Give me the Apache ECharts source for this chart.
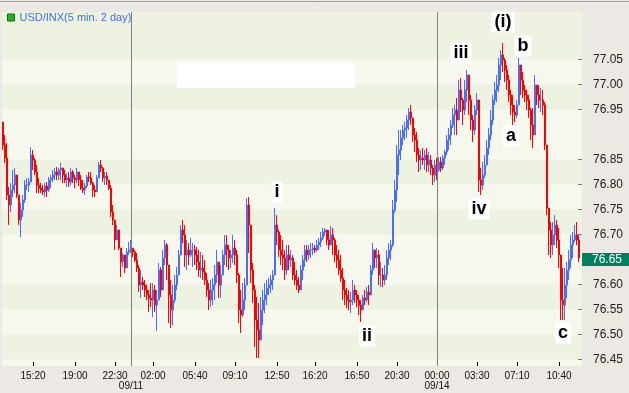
<!DOCTYPE html>
<html><head><meta charset="utf-8">
<script src="https://cdn.jsdelivr.net/npm/echarts@6/dist/echarts.min.js"></script>
<style>html,body{margin:0;padding:0;background:#ece9e4}#c{width:629px;height:393px}</style>
</head><body><div id="c"></div>
<script>
const seriesName = 'USD/INX(5 min. 2 day)';
const firstOpen = 76.925;
const highs = [
76.925,76.899,76.883,76.795,76.803,76.829,76.833,76.819,76.779,76.763,
76.779,76.809,76.813,76.813,76.875,76.869,76.853,76.839,76.813,76.803,
76.799,76.803,76.805,76.815,76.819,76.829,76.833,76.835,76.833,76.843,
76.833,76.829,76.823,76.825,76.833,76.829,76.819,76.833,76.825,76.819,
76.809,76.803,76.819,76.825,76.825,76.805,76.799,76.819,76.845,76.849,
76.835,76.825,76.825,76.805,76.799,76.759,76.729,76.719,76.703,76.669,
76.663,76.653,76.673,76.685,76.689,
76.673,76.669,76.663,76.639,76.629,76.615,76.609,76.599,76.589,76.603,
76.603,76.599,76.589,76.643,76.635,76.669,76.689,76.683,76.623,76.609,
76.599,76.619,76.635,76.669,76.719,76.729,76.719,76.689,76.683,76.693,
76.683,76.679,76.675,
76.669,76.665,76.659,76.649,76.623,76.603,76.609,76.613,76.639,76.669,
76.635,76.639,76.669,76.699,76.699,76.679,76.669,76.699,76.689,76.669,
76.623,76.589,76.603,76.613,76.773,76.775,76.695,76.643,76.599,76.575,
76.563,76.575,76.589,76.603,76.609,76.613,76.619,76.629,76.753,76.739,
76.709,76.699,76.689,76.669,76.679,76.679,76.669,76.659,76.645,76.629,
76.615,76.639,76.659,76.679,76.679,76.679,76.683,76.683,76.679,76.689,
76.693,76.705,76.713,76.713,76.709,76.709,76.717,76.713,76.693,76.679,
76.669,76.659,76.633,76.609,76.593,76.589,76.585,76.609,76.599,76.589,
76.579,76.569,76.579,76.589,76.595,76.599,76.639,76.683,76.669,76.673,
76.669,76.645,76.633,76.639,76.669,76.683,76.689,76.769,76.809,
76.879,76.909,76.909,76.919,76.925,76.939,76.953,76.959,76.933,76.913,
76.905,76.873,76.869,76.873,76.869,76.873,76.865,76.859,76.839,76.849,
76.853,76.855,76.855,76.859,76.869,76.899,76.913,76.929,76.953,76.959,
76.973,77.009,77.013,76.973,77.009,77.029,77.005,76.979,76.939,76.959,
76.983,76.945,76.833,76.845,76.859,76.889,76.913,76.949,76.979,77.005,
77.019,77.053,77.069,77.083,77.053,77.039,77.019,76.989,76.979,76.959,
76.969,77.053,77.039,77.025,76.999,76.989,76.979,76.953,76.953,77.019,
76.999,76.999,76.993,76.989,76.965,76.873,76.753,76.725,76.725,76.739,
76.729,76.713,76.645,76.633,76.633,76.645,76.669,76.699,76.705,76.719,
76.725,76.699];
const lows = [
76.869,76.843,76.769,76.719,76.745,76.775,76.783,76.773,76.719,76.695,
76.735,76.763,76.789,76.785,76.805,76.829,76.819,76.783,76.783,76.783,
76.779,76.775,76.775,76.785,76.793,76.805,76.809,76.809,76.809,76.809,
76.803,76.803,76.795,76.795,76.799,76.803,76.793,76.803,76.797,76.789,
76.783,76.779,76.793,76.805,76.799,76.775,76.775,76.785,76.819,76.825,
76.805,76.799,76.799,76.789,76.735,76.719,76.669,76.689,76.669,76.615,
76.635,76.623,76.645,76.659,76.663,
76.655,76.645,76.625,76.585,76.573,76.589,76.575,76.569,76.545,76.555,
76.535,76.545,76.507,76.589,76.575,76.609,76.639,76.609,76.523,76.513,
76.519,76.563,76.589,76.625,76.673,76.683,76.635,76.629,76.639,76.655,
76.635,76.639,76.629,
76.615,76.613,76.609,76.599,76.575,76.549,76.555,76.559,76.569,76.603,
76.573,76.573,76.629,76.639,76.635,76.629,76.633,76.643,76.639,76.603,
76.523,76.503,76.535,76.549,76.609,76.663,76.603,76.563,76.475,76.453,
76.453,76.503,76.519,76.543,76.559,76.579,76.583,76.589,76.645,76.679,
76.655,76.639,76.629,76.609,76.619,76.629,76.635,76.609,76.599,76.589,
76.583,76.589,76.609,76.635,76.645,76.649,76.653,76.659,76.663,76.665,
76.669,76.675,76.689,76.697,76.679,76.669,76.679,76.659,76.645,76.633,
76.619,76.605,76.569,76.559,76.553,76.549,76.543,76.559,76.563,76.555,
76.539,76.525,76.549,76.559,76.565,76.559,76.589,76.619,76.633,76.633,
76.599,76.595,76.595,76.599,76.609,76.639,76.649,76.675,76.743,
76.765,76.819,76.849,76.879,76.889,76.893,76.909,76.919,76.885,76.865,
76.845,76.825,76.829,76.839,76.829,76.825,76.825,76.819,76.799,76.805,
76.809,76.825,76.825,76.829,76.839,76.859,76.869,76.879,76.913,76.899,
76.899,76.945,76.945,76.919,76.939,76.965,76.939,76.909,76.885,76.899,
76.939,76.785,76.779,76.789,76.813,76.839,76.859,76.889,76.919,76.959,
76.965,76.985,77.009,77.025,77.005,76.989,76.965,76.939,76.919,76.925,
76.933,76.993,76.979,76.973,76.965,76.949,76.933,76.889,76.873,76.959,
76.959,76.953,76.945,76.939,76.869,76.739,76.659,76.653,76.659,76.679,
76.673,76.633,76.529,76.529,76.529,76.573,76.609,76.633,76.653,76.685,
76.679,76.645];
const closes = [
76.879,76.853,76.779,76.759,76.789,76.799,76.819,76.779,76.729,76.749,
76.769,76.799,76.799,76.805,76.859,76.849,76.825,76.799,76.793,76.789,
76.785,76.797,76.789,76.809,76.813,76.819,76.825,76.819,76.829,76.833,
76.819,76.809,76.813,76.805,76.825,76.813,76.809,76.825,76.809,76.793,
76.789,76.797,76.815,76.813,76.803,76.789,76.785,76.813,76.839,76.833,
76.813,76.817,76.809,76.793,76.745,76.729,76.689,76.709,76.673,76.645,
76.659,76.633,76.665,76.669,76.673,
76.665,76.649,76.633,76.599,76.605,76.599,76.589,76.579,76.573,76.569,
76.589,76.559,76.569,76.629,76.589,76.653,76.679,76.639,76.579,76.549,
76.569,76.599,76.619,76.659,76.709,76.699,76.659,76.669,76.659,76.669,
76.669,76.659,76.645,
76.629,76.633,76.625,76.609,76.589,76.569,76.589,76.599,76.619,76.645,
76.599,76.619,76.659,76.679,76.669,76.653,76.659,76.673,76.659,76.619,
76.549,76.539,76.569,76.599,76.759,76.719,76.629,76.589,76.529,76.509,
76.489,76.549,76.569,76.579,76.593,76.599,76.609,76.619,76.719,76.705,
76.669,76.659,76.653,76.629,76.659,76.649,76.653,76.619,76.609,76.599,
76.589,76.629,76.649,76.669,76.659,76.669,76.669,76.673,76.669,76.679,
76.685,76.693,76.705,76.709,76.689,76.679,76.699,76.689,76.659,76.649,
76.629,76.613,76.589,76.579,76.569,76.565,76.569,76.589,76.579,76.569,
76.559,76.549,76.573,76.569,76.585,76.579,76.629,76.669,76.653,76.659,
76.619,76.619,76.609,76.619,76.653,76.669,76.679,76.749,76.789,
76.859,76.869,76.893,76.909,76.913,76.929,76.945,76.933,76.899,76.889,
76.859,76.849,76.853,76.849,76.859,76.839,76.849,76.833,76.819,76.839,
76.829,76.845,76.833,76.853,76.865,76.889,76.899,76.919,76.939,76.949,
76.929,76.989,76.969,76.949,76.989,77.019,76.969,76.929,76.909,76.949,
76.969,76.809,76.799,76.819,76.839,76.873,76.899,76.929,76.969,76.989,
76.999,77.039,77.059,77.049,77.029,77.009,76.979,76.959,76.945,76.939,
76.959,77.039,77.009,76.989,76.979,76.969,76.949,76.919,76.899,76.999,
76.979,76.969,76.969,76.959,76.879,76.753,76.709,76.679,76.699,76.719,
76.689,76.659,76.569,76.559,76.599,76.629,76.649,76.679,76.689,76.699,
76.689,76.653];
const categoryCount = 290;
const timeTickIndex = [15,36,56,75,96,116,137,156,177,197,217,237,257,278];
const timeTickLabels = ['15:20','19:00','22:30','02:00','05:40','09:10','12:50','16:20','16:50','20:30','00:00','03:30','07:10','10:40'];
const dateTickIndex = [64,217];
const dateTickLabels = ['09/11','09/14'];
const priceTicks = [76.45,76.50,76.55,76.60,76.70,76.75,76.80,76.85,76.95,77.00,77.05];
const darkBands = [[76.45,76.50],[76.55,76.60],[76.70,76.75],[76.80,76.85],[76.95,77.00],[77.05,77.145]];
const lastPrice = 76.65;
const waveLabels = ['i','ii','iii','iv','(i)','a','b','c'];
const waveIndex = [137,182,229,238,250,254,260,280];
const wavePrice = [76.785,76.497,77.063,76.751,77.125,76.897,77.077,76.503];

const categories = [];
for (let i = 0; i < categoryCount; i++) categories.push(String(i));
const candles = closes.map((c, i) => [i === 0 ? firstOpen : closes[i - 1], c, lows[i], highs[i]]);

const chart = echarts.init(document.getElementById('c'), null, {renderer: 'canvas'});
const FONT = 'Liberation Sans, Arial, sans-serif';
chart.setOption({
  animation: false,
  backgroundColor: '#ece9e4',
  grid: {left: 2, right: 47, top: 12, bottom: 27, show: true, backgroundColor: '#f6f8ee', borderWidth: 0},
  legend: {
    left: 7, top: 12, padding: 0, icon: 'rect', itemWidth: 7, itemHeight: 7, selectedMode: false,
    data: [{name: seriesName, itemStyle: {color: '#22b322', borderColor: '#0a6a0a', borderWidth: 1}}],
    textStyle: {color: '#3b6fe8', fontSize: 11, fontFamily: FONT}
  },
  xAxis: [{
    type: 'category', data: categories, boundaryGap: true,
    axisLine: {show: false},
    axisTick: {show: true, inside: true, length: 4, alignWithLabel: true,
      interval: (i) => timeTickIndex.includes(i), lineStyle: {color: '#000'}},
    axisLabel: {interval: (i) => timeTickIndex.includes(i), margin: 5, color: '#111', fontSize: 10, fontFamily: FONT,
      formatter: (v, i) => timeTickLabels[timeTickIndex.indexOf(i)] || ''},
    splitLine: {show: false}
  }, {
    type: 'category', data: categories, boundaryGap: true, position: 'bottom',
    axisLine: {show: false}, axisTick: {show: false},
    axisLabel: {interval: (i) => dateTickIndex.includes(i), margin: 15, color: '#111', fontSize: 10, fontFamily: FONT,
      formatter: (v, i) => dateTickLabels[dateTickIndex.indexOf(i)] || ''},
    splitLine: {show: false}
  }],
  yAxis: {
    type: 'value', position: 'right', min: 76.437, max: 77.145, scale: true,
    axisLine: {show: false}, splitLine: {show: false},
    axisTick: {show: true, inside: true, length: 4, customValues: priceTicks, lineStyle: {color: '#000'}},
    axisLabel: {customValues: priceTicks, margin: 11, color: '#222', fontSize: 12, fontFamily: FONT,
      formatter: (v) => v.toFixed(2)}
  },
  series: [{
    type: 'line', data: [], z: 1, silent: true,
    markArea: {silent: true, itemStyle: {color: '#eef2e1'},
      data: darkBands.map(b => [{yAxis: b[0]}, {yAxis: b[1]}])},
    markLine: {silent: true, symbol: 'none', label: {show: false},
      lineStyle: {color: '#808080', type: 'solid', width: 1},
      data: dateTickIndex.map(i => ({xAxis: i}))}
  }, {
    name: seriesName, type: 'candlestick', z: 3, data: candles, barWidth: 2,
    itemStyle: {color: '#4a6cff', color0: '#ff0000', borderColor: '#4a6cff', borderColor0: '#ff0000', borderWidth: 1},
    markLine: {silent: true, symbol: 'none',
      lineStyle: {color: 'rgba(0,0,0,0)', width: 0},
      label: {show: true, position: 'end', distance: 0, formatter: lastPrice.toFixed(2),
        backgroundColor: '#008060', color: '#fff', fontSize: 12, fontFamily: FONT, padding: [1, 11, 0, 10]},
      data: [{yAxis: lastPrice}]},
    markPoint: {silent: true, symbol: 'rect', symbolSize: 0,
      label: {show: true, position: 'inside', formatter: (p) => p.name, color: '#000', fontWeight: 'bold',
        fontSize: 18, fontFamily: FONT, backgroundColor: '#fff', padding: [2, 3, 1, 3]},
      data: waveLabels.map((t, k) => ({name: t, coord: [waveIndex[k], wavePrice[k]]}))}
  }],
  graphic: [
    {type: 'rect', shape: {x: 177, y: 63, width: 178, height: 25}, style: {fill: '#ffffff'}, z: 50},
    {type: 'line', shape: {x1: 0, y1: 1.5, x2: 629, y2: 1.5}, style: {stroke: '#a0a0a0', lineWidth: 1}, z: 50}
  ]
});
</script></body></html>
